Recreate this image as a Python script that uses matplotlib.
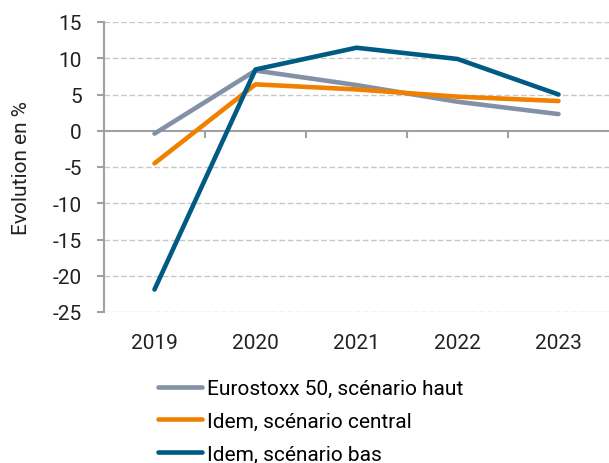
import matplotlib
matplotlib.use("Agg")
import matplotlib.pyplot as plt

years = ["2019", "2020", "2021", "2022", "2023"]
haut = [-0.4, 8.3, 6.3, 4.0, 2.3]
central = [-4.5, 6.4, 5.7, 4.7, 4.1]
bas = [-21.9, 8.45, 11.45, 9.9, 5.0]
labels = ["Eurostoxx 50, scénario haut", "Idem, scénario central", "Idem, scénario bas"]
colors = ["#8391a7", "#f08100", "#005b84"]
yticks = [15, 10, 5, 0, -5, -10, -15, -20, -25]

plt.rcParams['font.family'] = ['Roboto', 'DejaVu Sans']
FS = 15

fig = plt.figure(figsize=(6.09, 4.64), dpi=100)
ax = fig.add_axes([104/609, 1-313/464, 1-104/609, (313-23)/464])

x = list(range(len(years)))
lines = []
for vals, c, lab in zip([haut, central, bas], colors, labels):
    l, = ax.plot(x, vals, color=c, lw=3.3, label=lab, solid_capstyle='round', zorder=3)
    lines.append(l)

ax.set_xlim(-0.5, 4.5)
ax.set_ylim(-25, 15)
ax.set_yticks(yticks)
ax.set_yticklabels([str(v) for v in yticks])
for v in yticks:
    if v != 0:
        ax.axhline(v, color="#c8c8c8", lw=1, ls=(0, (4, 2)), zorder=1)
ax.axhline(0, color="#a0a0a0", lw=1.5, zorder=2)
for b in [0.5, 1.5, 2.5, 3.5]:
    ax.plot([b, b], [0, -0.8], color="#a0a0a0", lw=1.5, zorder=2, clip_on=False)

ax.set_xticks(x)
ax.set_xticklabels(years)
ax.tick_params(axis='x', length=0, pad=15, labelsize=FS, colors="#222222")
ax.tick_params(axis='y', length=5, width=1.5, color="#a0a0a0", labelsize=FS, labelcolor="#222222", pad=11)
for s in ["top", "right", "bottom"]:
    ax.spines[s].set_visible(False)
ax.spines["left"].set_color("#a0a0a0")
ax.spines["left"].set_linewidth(1.5)
fig.text(22/609, 1-168/464, "Evolution en %", rotation=90, ha="center", va="center",
         fontsize=FS, color="#222222")

fig.legend(handles=lines, labels=labels, loc="upper left", bbox_to_anchor=(158/609, 1-380/464),
           frameon=False, fontsize=FS, handlelength=2.1, handletextpad=0.25, labelspacing=0.66,
           borderaxespad=0, borderpad=0)

fig.savefig("out.png", dpi=100)
